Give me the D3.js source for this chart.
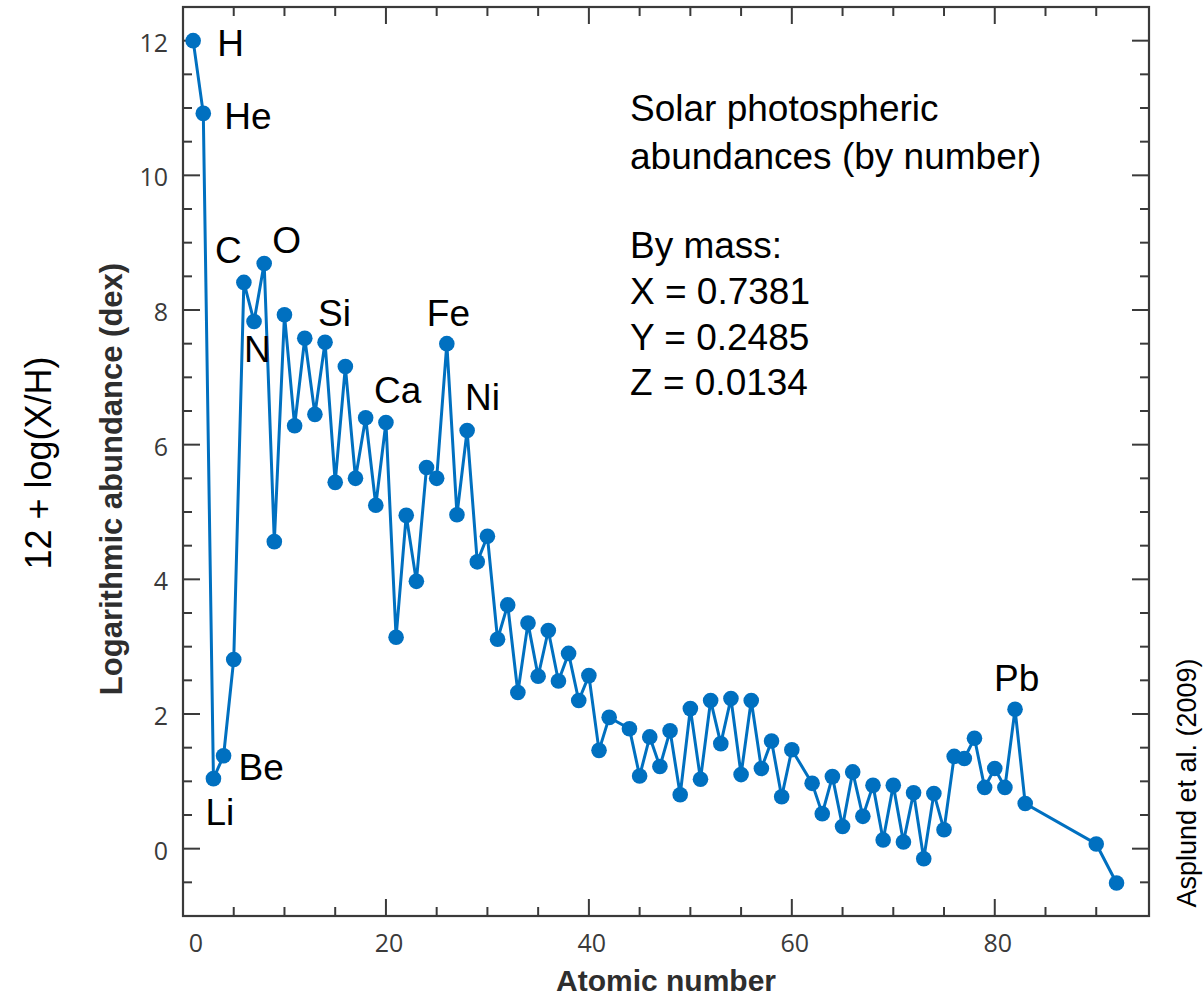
<!DOCTYPE html>
<html>
<head>
<meta charset="utf-8">
<script src="https://cdn.jsdelivr.net/npm/d3@7"></script>
<style>
  html, body { margin: 0; padding: 0; background: #fff; }
  svg { display: block; }
</style>
</head>
<body>
<svg id="chart" width="1204" height="1000"></svg>
<script>
// ---------- data ----------
const atomicNumbers = [1,2,3,4,5,6,7,8,9,10,11,12,13,14,15,16,17,18,19,20,21,22,23,24,25,26,27,28,29,30,
  31,32,33,34,35,36,37,38,39,40,41,42,44,45,46,47,48,49,50,51,52,53,54,55,56,57,58,59,60,
  62,63,64,65,66,67,68,69,70,71,72,73,74,75,76,77,78,79,80,81,82,83,90,92];
const abundances = [12.00,10.92,1.04,1.38,2.81,8.41,7.83,8.69,4.56,7.93,6.28,7.58,6.45,7.52,5.44,7.16,5.50,6.40,5.10,6.33,
  3.14,4.95,3.97,5.66,5.50,7.50,4.96,6.21,4.26,4.64,
  3.11,3.62,2.32,3.35,2.56,3.24,2.49,2.90,2.20,2.57,1.46,1.95,1.78,1.08,1.66,1.22,1.75,0.80,2.08,1.03,2.20,1.56,2.23,1.10,2.20,1.19,1.60,0.77,1.47,
  0.97,0.52,1.07,0.33,1.14,0.48,0.94,0.13,0.94,0.10,0.83,-0.15,0.82,0.28,1.37,1.34,1.64,0.91,1.19,0.91,2.07,0.67,0.07,-0.51];

const labelSymbols = ["H","He","Li","Be","C","N","O","Si","Ca","Fe","Ni","Pb"];
const labelZ       = [1, 2, 3, 4, 6, 7, 8, 14, 20, 26, 28, 82];

const xTickValues = [0, 20, 40, 60, 80];
const yTickValues = [0, 2, 4, 6, 8, 10, 12];

const noteLines = ["Solar photospheric", "abundances (by number)", "", "By mass:", "X = 0.7381", "Y = 0.2485", "Z = 0.0134"];
const xTitle = "Atomic number";
const yTitle = "Logarithmic abundance (dex)";
const yTitle2 = "12 + log(X/H)";
const sourceText = "Asplund et al. (2009)";

// ---------- styling / layout ----------
const BLUE = "#0070c0";
const AXIS = "#3a3a3a";
const padL = 183, padR = 1149, padT = 7, padB = 916;

const x = d3.scaleLinear().domain([0, 95.2]).range([padL, padR]);
const y = d3.scaleLinear().domain([-1, 12.5]).range([padB, padT]);

const svg = d3.select("#chart");

const points = atomicNumbers.map((z, i) => ({z, v: abundances[i]}));

// ticks
const xMinor = d3.range(5, 95, 5);
const yMinor = d3.range(-0.5, 12.5, 0.5);
const majLen = 17, minLen = 9;
const isXMajor = d => d % 20 === 0;
const isYMajor = d => Math.abs(d % 2) < 1e-9;

const tickG = svg.append("g").attr("stroke", AXIS).attr("stroke-width", 2);
tickG.append("g").selectAll("line").data(xMinor).join("line")
  .attr("x1", d => x(d)).attr("x2", d => x(d))
  .attr("y1", padB).attr("y2", d => padB - (isXMajor(d) ? majLen : minLen));
tickG.append("g").selectAll("line").data(xMinor).join("line")
  .attr("x1", d => x(d)).attr("x2", d => x(d))
  .attr("y1", padT).attr("y2", d => padT + (isXMajor(d) ? majLen : minLen));
tickG.append("g").selectAll("line").data(yMinor).join("line")
  .attr("y1", d => y(d)).attr("y2", d => y(d))
  .attr("x1", padL).attr("x2", d => padL + (isYMajor(d) ? majLen : minLen));
tickG.append("g").selectAll("line").data(yMinor).join("line")
  .attr("y1", d => y(d)).attr("y2", d => y(d))
  .attr("x1", padR).attr("x2", d => padR - (isYMajor(d) ? majLen : minLen));

// frame
svg.append("rect").attr("x", padL).attr("y", padT)
  .attr("width", padR - padL).attr("height", padB - padT)
  .attr("fill", "none").attr("stroke", AXIS).attr("stroke-width", 2.2);

// tick labels
const tickFont = "'Open Sans', 'Liberation Sans', sans-serif";
svg.append("g").selectAll("text").data(xTickValues).join("text")
  .attr("x", d => x(d) + (d === 0 ? 13 : 3))
  .attr("y", 952)
  .attr("text-anchor", "middle")
  .attr("font-family", tickFont).attr("font-size", 25)
  .attr("fill", AXIS)
  .text(d => d);
svg.append("g").selectAll("text").data(yTickValues).join("text")
  .attr("x", 168)
  .attr("y", d => y(d) + 11)
  .attr("text-anchor", "end")
  .attr("font-family", tickFont).attr("font-size", 25)
  .attr("fill", AXIS)
  .text(d => d);

// axis titles
svg.append("text")
  .attr("x", (padL + padR) / 2).attr("y", 991)
  .attr("text-anchor", "middle")
  .attr("font-family", "'Liberation Sans', Arial, sans-serif")
  .attr("font-weight", "bold").attr("font-size", 30)
  .attr("fill", "#2e2e2e")
  .text(xTitle);
svg.append("text")
  .attr("transform", "translate(122,479) rotate(-90)")
  .attr("text-anchor", "middle")
  .attr("font-family", "'Liberation Sans', Arial, sans-serif")
  .attr("font-weight", "bold").attr("font-size", 31)
  .attr("fill", "#2e2e2e")
  .text(yTitle);
svg.append("text")
  .attr("transform", "translate(51,463) rotate(-90)")
  .attr("text-anchor", "middle")
  .attr("font-family", "'Liberation Sans', Arial, sans-serif")
  .attr("font-size", 36)
  .attr("fill", "#000")
  .text(yTitle2);
svg.append("text")
  .attr("transform", "translate(1196,783) rotate(-90)")
  .attr("text-anchor", "middle")
  .attr("font-family", "'Liberation Sans', Arial, sans-serif")
  .attr("font-size", 27)
  .attr("fill", "#000")
  .text(sourceText);

// line and points
const line = d3.line().x(d => x(d.z)).y(d => y(d.v));
svg.append("path").datum(points)
  .attr("d", line)
  .attr("fill", "none").attr("stroke", BLUE).attr("stroke-width", 3);
svg.append("g").selectAll("circle").data(points).join("circle")
  .attr("cx", d => x(d.z)).attr("cy", d => y(d.v)).attr("r", 7.8)
  .attr("fill", BLUE);

// element labels (offsets from their points, px)
const labelOffsets = {
  H: [24, 15], He: [21, 16], Li: [-8, 46], Be: [15, 24], C: [-29, -19], N: [-10, 41],
  O: [8, -11], Si: [-7, -16], Ca: [-12, -19], Fe: [-20, -18], Ni: [-2, -21], Pb: [-21, -18]
};
const valueByZ = new Map(points.map(p => [p.z, p.v]));
svg.append("g").selectAll("text").data(labelSymbols).join("text")
  .attr("x", (s, i) => x(labelZ[i]) + labelOffsets[s][0])
  .attr("y", (s, i) => y(valueByZ.get(labelZ[i])) + labelOffsets[s][1])
  .attr("font-family", "'Liberation Sans', Arial, sans-serif")
  .attr("font-size", 37)
  .attr("fill", "#000")
  .text(s => s);

// note block
const noteBaselines = [121, 169, 0, 258, 304, 350, 395];
svg.append("g").selectAll("text").data(noteLines).join("text")
  .attr("x", 630)
  .attr("y", (d, i) => noteBaselines[i])
  .attr("font-family", "'Liberation Sans', Arial, sans-serif")
  .attr("font-size", 37)
  .attr("fill", "#000")
  .text(d => d);
</script>
</body>
</html>
